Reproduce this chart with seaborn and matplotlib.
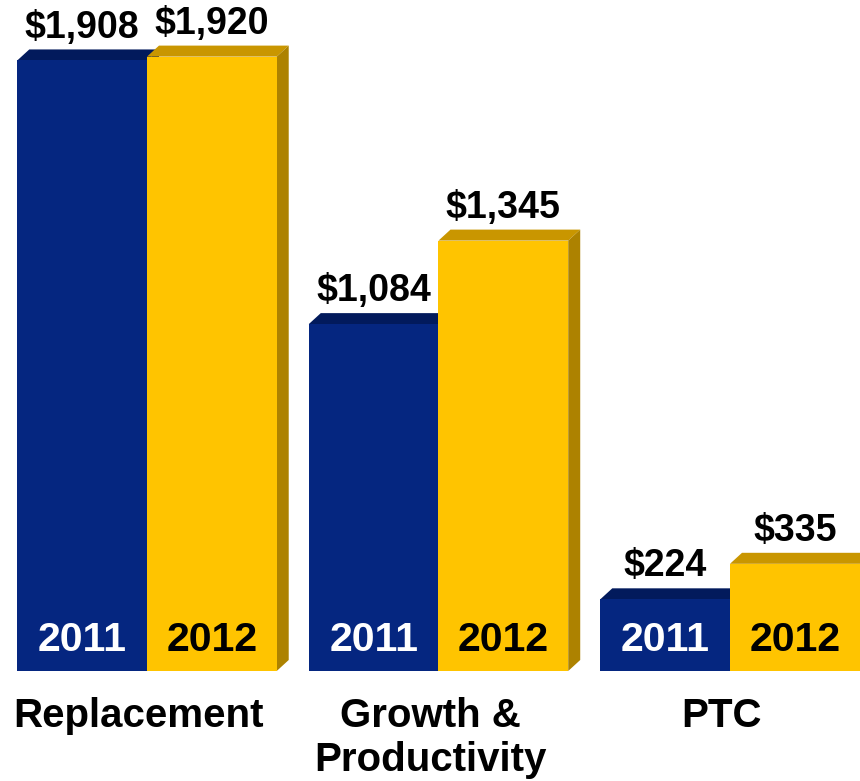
import pandas as pd
import seaborn as sns
import matplotlib.pyplot as plt
import matplotlib.transforms as mtransforms
from matplotlib.patches import Polygon

categories = ["Replacement", "Growth &\nProductivity", "PTC"]
years = ["2011", "2012"]
values_2011 = [1908, 1084, 224]
values_2012 = [1920, 1345, 335]

df = pd.DataFrame({
    "category": categories * 2,
    "year": [years[0]] * 3 + [years[1]] * 3,
    "value": values_2011 + values_2012,
})

front = {"2011": "#052680", "2012": "#FFC400"}
top = {"2011": "#021A5C", "2012": "#C99600"}
side = {"2011": "#021A5C", "2012": "#AD8200"}
year_txt = {"2011": "white", "2012": "black"}

sns.set_style("white")
plt.rcParams["font.family"] = ["Liberation Sans", "DejaVu Sans"]
plt.rcParams["text.color"] = "black"
plt.rcParams["xtick.color"] = "black"

fig = plt.figure(figsize=(8.6, 7.81), dpi=100)
ax = fig.add_axes([0, 110 / 781, 1, 671 / 781])
sns.barplot(data=df, x="category", y="value", hue="year", palette=front,
            saturation=1, width=0.89, linewidth=0, ax=ax, legend=False)
ax.set_xlim(-147 / 291.5, (860 - 147) / 291.5)
ax.set_ylim(0, 671 / 0.32)

# depth of the 3D look, in data units (12 px right, 11 px up)
dx = 12 / 291.5
dy = 11 / 0.32

for i, cont in enumerate(ax.containers):
    yr = years[i]
    for bar in cont:
        x0 = bar.get_x()
        w = bar.get_width()
        h = bar.get_height()
        bar.set_zorder(3 + i * 2)
        ax.add_patch(Polygon([(x0, h), (x0 + dx, h + dy), (x0 + w + dx, h + dy), (x0 + w, h)],
                             closed=True, facecolor=top[yr], edgecolor="none", zorder=2 + i * 2))
        ax.add_patch(Polygon([(x0 + w, 0), (x0 + w + dx, dy), (x0 + w + dx, h + dy), (x0 + w, h)],
                             closed=True, facecolor=side[yr], edgecolor="none", zorder=2 + i * 2))
        ax.annotate(f"${h:,.0f}", (x0 + w / 2, h), xytext=(0, 16.5), textcoords="offset points",
                    ha="center", va="baseline", fontsize=27, fontweight="bold", zorder=10)
        ax.annotate(yr, (x0 + w / 2, 0), xytext=(0, 14.4), textcoords="offset points",
                    ha="center", va="baseline", fontsize=29.5, fontweight="bold",
                    color=year_txt[yr], zorder=10)

ax.set_xlabel("")
ax.set_ylabel("")
ax.set_yticks([])
ax.tick_params(axis="x", length=0, pad=19)
shift = mtransforms.ScaledTranslation(-8 / 100, 0, fig.dpi_scale_trans)
for lab in ax.get_xticklabels():
    lab.set_fontsize(29)
    lab.set_fontweight("bold")
    lab.set_linespacing(1.18)
    lab.set_transform(lab.get_transform() + shift)
sns.despine(ax=ax, left=True, bottom=True)

fig.savefig("out.png", dpi=100)
